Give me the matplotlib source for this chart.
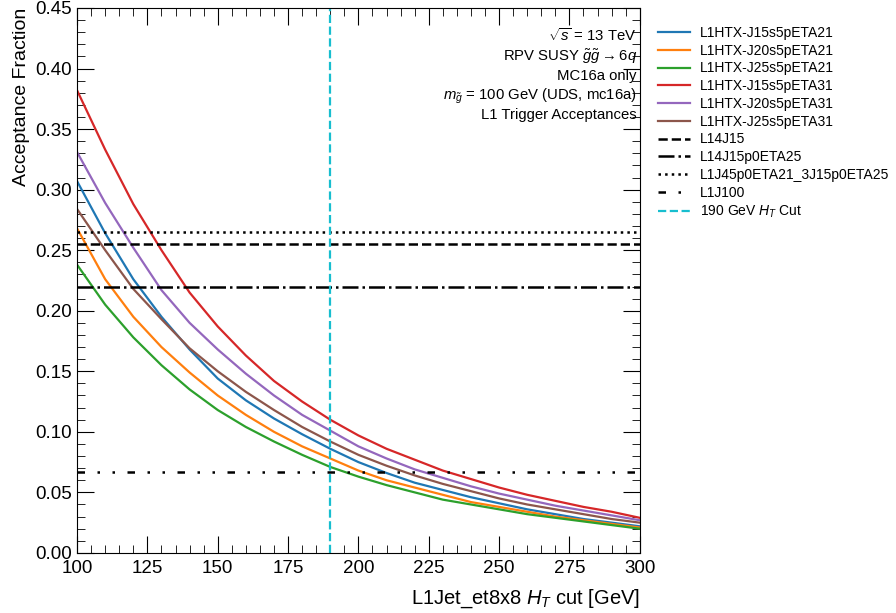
import numpy as np
import matplotlib
matplotlib.use("Agg")
import matplotlib.pyplot as plt
from matplotlib.ticker import MultipleLocator

plt.rcParams["font.family"] = ["Liberation Sans", "DejaVu Sans"]
plt.rcParams["mathtext.fontset"] = "custom"
plt.rcParams["mathtext.rm"] = "Liberation Sans"
plt.rcParams["mathtext.it"] = "Liberation Sans:italic"

# HT cut scan points
ht_cut = np.arange(100, 301, 10)

# acceptance per L1HTX trigger
j15_eta21 = [0.307, 0.264, 0.226, 0.195, 0.168, 0.144, 0.126, 0.111, 0.098, 0.086, 0.075,
             0.066, 0.058, 0.052, 0.046, 0.041, 0.036, 0.032, 0.028, 0.025, 0.022]
j20_eta21 = [0.268, 0.226, 0.195, 0.170, 0.149, 0.130, 0.114, 0.100, 0.088, 0.078, 0.068,
             0.060, 0.054, 0.048, 0.042, 0.038, 0.034, 0.030, 0.027, 0.024, 0.021]
j25_eta21 = [0.238, 0.205, 0.178, 0.155, 0.135, 0.118, 0.104, 0.092, 0.081, 0.071, 0.063,
             0.056, 0.050, 0.044, 0.040, 0.036, 0.032, 0.029, 0.026, 0.023, 0.020]
j15_eta31 = [0.382, 0.333, 0.288, 0.250, 0.215, 0.187, 0.163, 0.142, 0.125, 0.110, 0.097,
             0.086, 0.077, 0.068, 0.061, 0.054, 0.048, 0.043, 0.038, 0.034, 0.029]
j20_eta31 = [0.331, 0.289, 0.252, 0.217, 0.190, 0.168, 0.148, 0.130, 0.114, 0.101, 0.088,
             0.078, 0.069, 0.062, 0.055, 0.049, 0.044, 0.039, 0.035, 0.031, 0.027]
j25_eta31 = [0.284, 0.250, 0.218, 0.193, 0.169, 0.150, 0.133, 0.118, 0.104, 0.092, 0.081,
             0.072, 0.064, 0.057, 0.051, 0.045, 0.040, 0.036, 0.032, 0.028, 0.025]

htx_names = ["L1HTX-J15s5pETA21", "L1HTX-J20s5pETA21", "L1HTX-J25s5pETA21",
             "L1HTX-J15s5pETA31", "L1HTX-J20s5pETA31", "L1HTX-J25s5pETA31"]
htx_vals = [j15_eta21, j20_eta21, j25_eta21, j15_eta31, j20_eta31, j25_eta31]

# fixed-acceptance reference triggers
ref_names = ["L14J15", "L14J15p0ETA25", "L1J45p0ETA21_3J15p0ETA25", "L1J100"]
ref_vals = [0.255, 0.220, 0.265, 0.067]
ref_styles = ["--", "-.", ":", (0, (3, 5, 1, 5, 1, 5))]

ht_line = 190

fig = plt.figure(figsize=(8.96, 6.13), dpi=100)
ax = fig.add_axes([0.086, 0.098, 0.628, 0.889])

for name, vals in zip(htx_names, htx_vals):
    ax.plot(ht_cut, vals, lw=1.6, label=name)
for name, v, ls in zip(ref_names, ref_vals, ref_styles):
    ax.axhline(v, color="black", ls=ls, lw=1.8, label=name)
ax.axvline(ht_line, color="tab:cyan", ls="--", lw=1.6, label=r"190 GeV $H_T$ Cut")

ax.set_xlim(100, 300)
ax.set_ylim(0, 0.45)
ax.xaxis.set_major_locator(MultipleLocator(25))
ax.xaxis.set_minor_locator(MultipleLocator(5))
ax.yaxis.set_major_locator(MultipleLocator(0.05))
ax.yaxis.set_minor_locator(MultipleLocator(0.01))
ax.yaxis.set_major_formatter(matplotlib.ticker.FormatStrFormatter("%.2f"))
ax.tick_params(which="both", direction="in", top=True, right=True, labelsize=13.5)
ax.tick_params(which="major", length=12)
ax.tick_params(which="minor", length=6)
ax.tick_params(axis="x", which="major", pad=5)

ax.set_xlabel(r"L1Jet_et8x8 $H_T$ cut [GeV]", fontsize=14.5, loc="right", labelpad=8)
ax.set_ylabel("Acceptance Fraction", fontsize=14, loc="top")

ax.text(0.995, 0.965,
        "$\\sqrt{s}$ = 13 TeV\n"
        "RPV SUSY $\\tilde{g}\\tilde{g} \\rightarrow 6q$\n"
        "MC16a only\n"
        "$m_{\\tilde{g}}$ = 100 GeV (UDS, mc16a)\n"
        "L1 Trigger Acceptances",
        transform=ax.transAxes, ha="right", va="top", fontsize=10.7, linespacing=1.25)

ax.legend(loc="upper left", bbox_to_anchor=(1.01, 0.99), frameon=False,
          fontsize=10.0, handlelength=2.3, handletextpad=0.7, labelspacing=0.27)

fig.savefig("out.png", dpi=100)
